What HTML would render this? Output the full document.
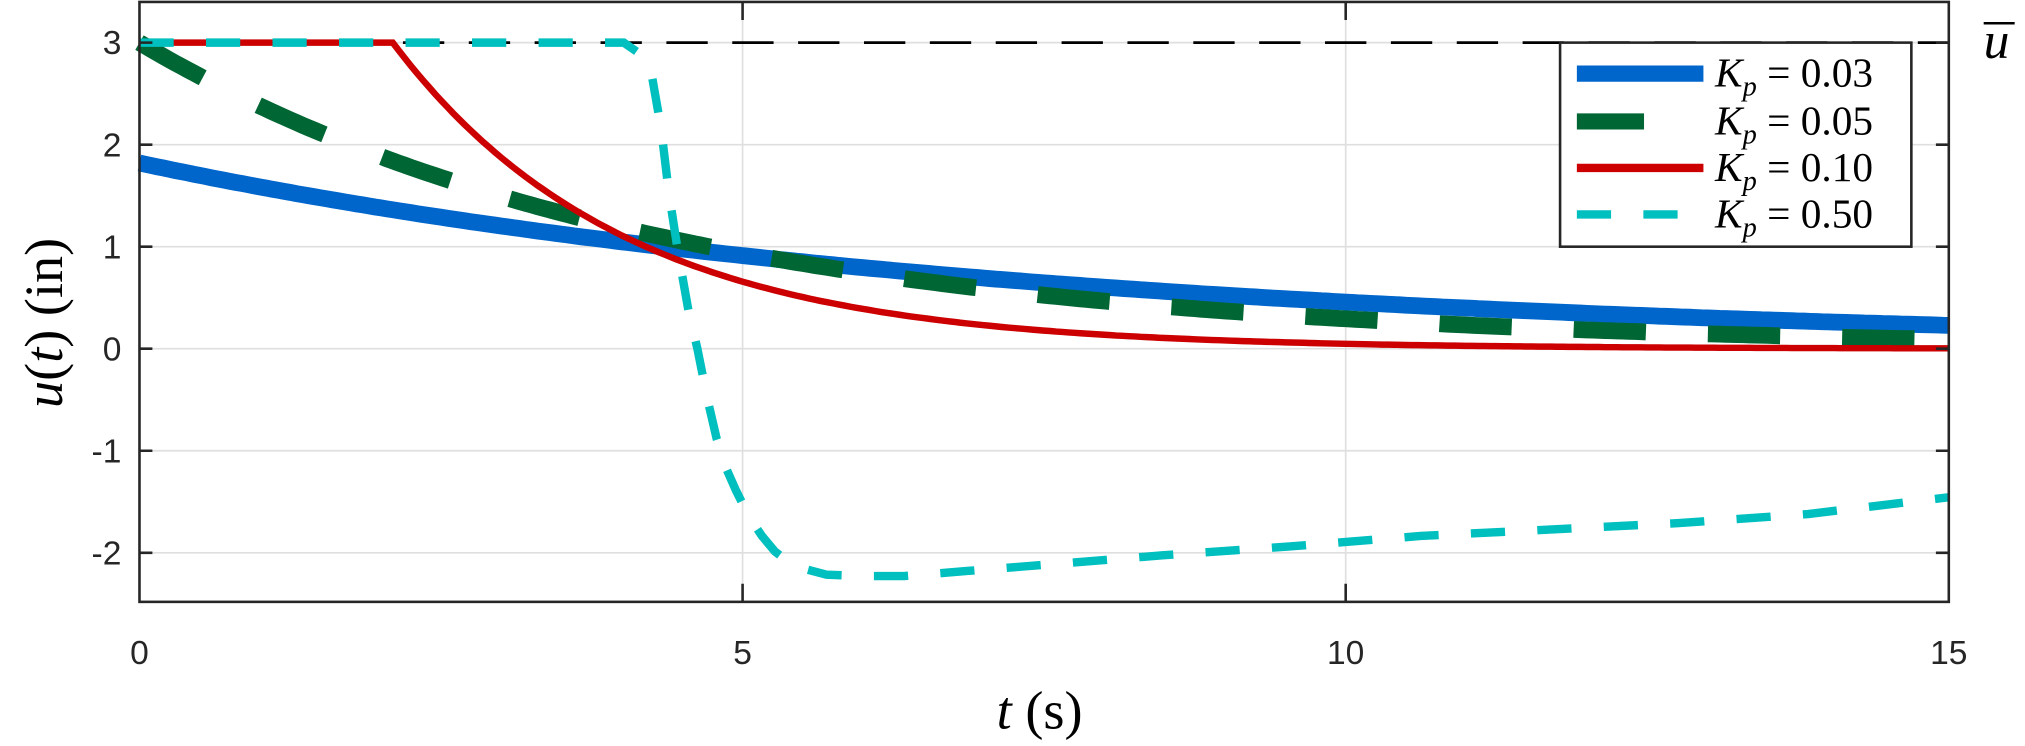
<!DOCTYPE html>
<html><head><meta charset="utf-8"><style>
html,body{margin:0;padding:0;background:#fff;}
svg{display:block;}
</style></head><body>
<svg id="s" width="2025" height="746" viewBox="0 0 1568 577.6" preserveAspectRatio="none" xmlns="http://www.w3.org/2000/svg">
<rect x="0" y="0" width="1568" height="578" fill="#fff"/>
<g stroke="#dfdfdf" stroke-width="1.3">
<line x1="575" y1="1.5" x2="575" y2="466"/>
<line x1="1042" y1="1.5" x2="1042" y2="466"/>
<line x1="108" y1="112" x2="1509" y2="112"/>
<line x1="108" y1="191" x2="1509" y2="191"/>
<line x1="108" y1="270" x2="1509" y2="270"/>
<line x1="108" y1="349" x2="1509" y2="349"/>
<line x1="108" y1="428" x2="1509" y2="428"/>
<line x1="108" y1="33" x2="1509" y2="33"/>
</g>
<line x1="108" y1="33" x2="1509" y2="33" stroke="#000" stroke-width="2.2" stroke-dasharray="32 19"/>
<g id="curves" fill="none"></g>
<g stroke="#262626" stroke-width="2">
<rect x="108" y="1.5" width="1401" height="464.5" fill="none"/>
<path d="M108 33h10M108 112h10M108 191h10M108 270h10M108 349h10M108 428h10M1509 33h-10M1509 112h-10M1509 191h-10M1509 270h-10M1509 349h-10M1509 428h-10M575 466v-14M1042 466v-14M575 1.5v14M1042 1.5v14"/>
</g>
<g font-family="Liberation Sans, sans-serif" font-size="26" fill="#262626" text-anchor="end">
<text x="94" y="42">3</text><text x="94" y="121">2</text><text x="94" y="200">1</text>
<text x="94" y="279">0</text><text x="94" y="358">-1</text><text x="94" y="437">-2</text>
</g>
<g font-family="Liberation Sans, sans-serif" font-size="26" fill="#262626" text-anchor="middle">
<text x="108" y="514">0</text><text x="575" y="514">5</text><text x="1042" y="514">10</text><text x="1509" y="514">15</text>
</g>
<text x="805" y="564" font-family="Liberation Serif, serif" font-size="42" text-anchor="middle"><tspan font-style="italic">t</tspan> (s)</text>
<text transform="translate(48,250) rotate(-90)" font-family="Liberation Serif, serif" font-size="42" text-anchor="middle"><tspan font-style="italic">u</tspan>(<tspan font-style="italic">t</tspan>) (in)</text>
<text x="1536" y="45" font-family="Liberation Serif, serif" font-size="40" font-style="italic">u</text>
<line x1="1536" y1="18" x2="1560" y2="18" stroke="#000" stroke-width="2"/>
<rect x="1208" y="33" width="272" height="158" fill="#fff" stroke="#262626" stroke-width="2"/>
<line x1="1221" y1="57" x2="1319" y2="57" stroke="#0066cc" stroke-width="12.5"/>
<line x1="1221" y1="94" x2="1319" y2="94" stroke="#006633" stroke-width="12.5" stroke-dasharray="52 48"/>
<line x1="1221" y1="130" x2="1319" y2="130" stroke="#cc0000" stroke-width="6.5"/>
<line x1="1221" y1="166" x2="1319" y2="166" stroke="#00bfbf" stroke-width="6.5" stroke-dasharray="26.5 25"/>
<g font-family="Liberation Serif, serif" font-size="32" fill="#000">
<text x="1328" y="67"><tspan font-style="italic">K</tspan><tspan font-style="italic" font-size="22" dy="7">p</tspan><tspan dy="-7"> = 0.03</tspan></text>
<text x="1328" y="104"><tspan font-style="italic">K</tspan><tspan font-style="italic" font-size="22" dy="7">p</tspan><tspan dy="-7"> = 0.05</tspan></text>
<text x="1328" y="140"><tspan font-style="italic">K</tspan><tspan font-style="italic" font-size="22" dy="7">p</tspan><tspan dy="-7"> = 0.10</tspan></text>
<text x="1328" y="176"><tspan font-style="italic">K</tspan><tspan font-style="italic" font-size="22" dy="7">p</tspan><tspan dy="-7"> = 0.50</tspan></text>
</g>
</svg>
<script>
(function(){
var X=function(t){return 108+93.4*t;}, Y=function(u){return 270-79*u;};
function path(f){var d="";for(var i=0;i<=300;i++){var t=i*0.05;d+=(i?"L":"M")+X(t).toFixed(1)+" "+Y(f(t)).toFixed(1);}return d;}
var g=document.getElementById("curves"),ns="http://www.w3.org/2000/svg";
function add(d,c,w,da){var p=document.createElementNS(ns,"path");p.setAttribute("d",d);p.setAttribute("stroke",c);p.setAttribute("stroke-width",w);if(da)p.setAttribute("stroke-dasharray",da);g.appendChild(p);}
add(path(function(t){return 1.82*Math.exp(-t/7.24);}),"#0066cc",13);
add(path(function(t){return 3*Math.exp(-t/4.3);}),"#006633",13,"56 48");
add(path(function(t){return t<2.1?3:3*Math.exp(-(t-2.1)/1.91);}),"#cc0000",5);
var pts=[[108,33],[483,33],[496,42],[505,60],[512,100],[518,150],[525,195],[533,240],[540,270],[548,310],[555,340],[562,362],[570,380],[580,400],[590,415],[600,427],[612,436],[625,441],[640,445],[670,446],[700,446],[750,442],[800,438],[900,430],[1000,423],[1100,415],[1200,410],[1300,405],[1400,398],[1509,385]];
var d="";pts.forEach(function(p,i){d+=(i?"L":"M")+p[0]+" "+p[1];});
add(d,"#00bfbf",6.5,"26.5 25");
})();
</script>
</body></html>
